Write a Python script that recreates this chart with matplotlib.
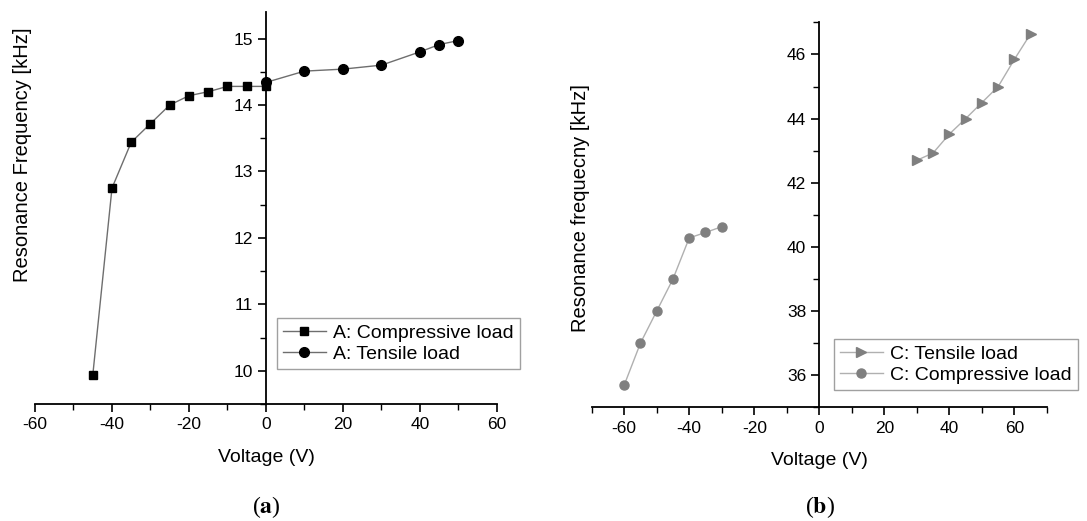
import matplotlib
matplotlib.use("Agg")
import matplotlib.pyplot as plt
from matplotlib.ticker import MultipleLocator

plt.rcParams['font.family'] = ['Liberation Sans', 'DejaVu Sans']
plt.rcParams['axes.unicode_minus'] = False

# panel (a): sample A
a_comp_v = [-45, -40, -35, -30, -25, -20, -15, -10, -5, 0]
a_comp_f = [9.93, 12.75, 13.44, 13.72, 14.0, 14.14, 14.2, 14.28, 14.28, 14.28]
a_tens_v = [0, 10, 20, 30, 40, 45, 50]
a_tens_f = [14.34, 14.51, 14.54, 14.6, 14.8, 14.91, 14.97]

# panel (b): sample C
c_tens_v = [30, 35, 40, 45, 50, 55, 60, 65]
c_tens_f = [42.7, 42.93, 43.52, 44.0, 44.5, 45.0, 45.85, 46.65]
c_comp_v = [-60, -55, -50, -45, -40, -35, -30]
c_comp_f = [35.69, 37.0, 38.0, 39.0, 40.28, 40.45, 40.63]


def style_axes(ax):
    ax.spines['top'].set_visible(False)
    ax.spines['right'].set_visible(False)
    ax.spines['left'].set_position(('data', 0))
    ax.spines['left'].set_linewidth(1.3)
    ax.spines['bottom'].set_linewidth(1.3)
    ax.tick_params(which='major', direction='out', length=6, width=1.2, labelsize=12.5)
    ax.tick_params(which='minor', direction='out', length=4, width=1.0)
    ax.patch.set_alpha(0)


fig = plt.figure(figsize=(10.87, 5.21), dpi=100)

ax1 = fig.add_axes([0.0322, 0.2246, 0.425, 0.7524])
ax1.plot(a_comp_v, a_comp_f, '-s', color='#6e6e6e', lw=1.0, mfc='black', mec='black', ms=6,
         label='A: Compressive load')
ax1.plot(a_tens_v, a_tens_f, '-o', color='#6e6e6e', lw=1.0, mfc='black', mec='black', ms=7,
         label='A: Tensile load')
ax1.set_xlim(-60, 60)
ax1.set_ylim(9.5, 15.4)
ax1.xaxis.set_major_locator(MultipleLocator(20))
ax1.xaxis.set_minor_locator(MultipleLocator(10))
ax1.yaxis.set_major_locator(MultipleLocator(1))
ax1.yaxis.set_minor_locator(MultipleLocator(0.5))
style_axes(ax1)
ax1.set_xlabel('Voltage (V)', fontsize=14, labelpad=12)
ax1.set_ylabel('Resonance Frequency [kHz]', fontsize=14.5)
ax1.yaxis.set_label_coords(-0.0065, 0.635)
leg1 = ax1.legend(loc='upper left', bbox_to_anchor=(0.524, 0.219), fontsize=14,
                  frameon=True, fancybox=False, edgecolor='#888888', handlelength=2.2,
                  handletextpad=0.4, borderpad=0.3, labelspacing=0.2, borderaxespad=0)
leg1.get_frame().set_linewidth(1.0)

ax2 = fig.add_axes([0.5443, 0.2182, 0.4189, 0.7389])
ax2.plot(c_tens_v, c_tens_f, '->', color='#b0b0b0', lw=1.0, mfc='#7f7f7f', mec='#7f7f7f', ms=7,
         label='C: Tensile load')
ax2.plot(c_comp_v, c_comp_f, '-o', color='#b0b0b0', lw=1.0, mfc='#7f7f7f', mec='#7f7f7f', ms=6.5,
         label='C: Compressive load')
ax2.set_xlim(-70, 70)
ax2.set_ylim(35, 47)
ax2.xaxis.set_minor_locator(MultipleLocator(10))
ax2.yaxis.set_major_locator(MultipleLocator(2))
ax2.yaxis.set_minor_locator(MultipleLocator(1))
ax2.set_xticks([-60, -40, -20, 0, 20, 40, 60])
style_axes(ax2)
ax2.set_xlabel('Voltage (V)', fontsize=14, labelpad=12)
ax2.set_ylabel('Resonance frequecny [kHz]', fontsize=14.5)
ax2.yaxis.set_label_coords(-0.004, 0.518)
leg2 = ax2.legend(loc='upper left', bbox_to_anchor=(0.532, 0.177), fontsize=14,
                  frameon=True, fancybox=False, edgecolor='#888888', handlelength=2.2,
                  handletextpad=0.4, borderpad=0.3, labelspacing=0.2, borderaxespad=0)
leg2.get_frame().set_linewidth(1.0)

fig.text(266 / 1087, 1 - 507 / 521, r'($\mathbf{a}$)', ha='center', va='center', fontsize=17,
         family='Liberation Serif', math_fontfamily='stix')
fig.text(820 / 1087, 1 - 507 / 521, r'($\mathbf{b}$)', ha='center', va='center', fontsize=17,
         family='Liberation Serif', math_fontfamily='stix')

fig.savefig('out.png', dpi=100)
